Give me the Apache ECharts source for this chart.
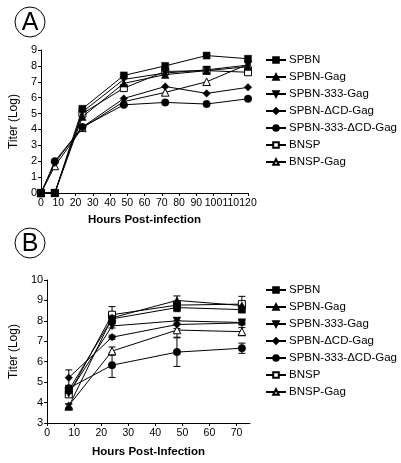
<!DOCTYPE html>
<html><head><meta charset="utf-8">
<script src="https://cdn.jsdelivr.net/npm/echarts@6/dist/echarts.min.js"></script>
<style>html,body{margin:0;padding:0;background:#fff}#c{width:401px;height:463px}</style>
</head><body><div id="c"></div>
<script>
var names = ['SPBN','SPBN-Gag','SPBN-333-Gag','SPBN-\u0394CD-Gag','SPBN-333-\u0394CD-Gag','BNSP','BNSP-Gag'];
// Panel A
var hoursA = [0, 8, 24, 48, 72, 96, 120];
var a_SPBN      = [0, 0,   5.3,  7.4,  8.0,  8.65, 8.45];
var a_SPBNGag   = [0, 0,   4.8,  6.9,  7.45, 7.7,  7.95];
var a_333Gag    = [0, 0,   5.1,  7.15, 7.55, 7.75, 8.05];
var a_dCDGag    = [0, 1.9, 4.15, 5.95, 6.7,  6.27, 6.65];
var a_333dCDGag = [0, 2.0, 4.15, 5.55, 5.7,  5.6,  5.93];
var a_BNSP      = [0, 0,   5.0,  6.6,  7.65, 7.7,  7.6];
var a_BNSPGag   = [0, 1.7, 4.1,  5.75, 6.33, 7.0,  8.1];
// Panel B
var hoursB = [8, 24, 48, 72];
var b_SPBN      = [4.6,  8.1,  8.65, 8.55];
var b_SPBNGag   = [3.8,  8.15, 9.0,  8.75];
var b_333Gag    = [4.45, 7.75, 8.0,  7.92];
var b_dCDGag    = [5.22, 7.2,  7.82, 7.9];
var b_333dCDGag = [4.7,  5.83, 6.47, 6.66];
var b_BNSP      = [4.4,  8.3,  8.77, 8.82];
var b_BNSPGag   = [3.85, 6.52, 7.55, 7.47];
// Panel B error (+/-)
var e_SPBN      = [0.15, 0.2,  0.2,  0.15];
var e_SPBNGag   = [0.12, 0.2,  0.22, 0.2];
var e_333Gag    = [0.1,  0.1,  0.15, 0.1];
var e_dCDGag    = [0.38, 0.1,  0.2,  0.1];
var e_333dCDGag = [0.1,  0.6,  0.7,  0.25];
var e_BNSP      = [0.15, 0.4,  0.2,  0.38];
var e_BNSPGag   = [0.1,  0.2,  0.35, 0.2];
var ticksA = {min:0, max:120, interval:10};
var ticksAy = {min:0, max:9, interval:1};
var ticksB = {min:0, max:75, interval:10};
var ticksBy = {min:3, max:10, interval:1};

var FONT = '"Liberation Sans", Arial, sans-serif';
var downTri = 'path://M0,0L10,0L5,9Z';
var styles = [
  {symbol:'rect', fill:'#000', size:7},
  {symbol:'triangle', fill:'#000', size:7.5},
  {symbol:downTri, fill:'#000', size:7.5},
  {symbol:'diamond', fill:'#000', size:7.5},
  {symbol:'circle', fill:'#000', size:7.5},
  {symbol:'rect', fill:'#fff', size:7},
  {symbol:'triangle', fill:'#fff', size:7.5}
];
var dataA = [a_SPBN,a_SPBNGag,a_333Gag,a_dCDGag,a_333dCDGag,a_BNSP,a_BNSPGag];
var dataB = [b_SPBN,b_SPBNGag,b_333Gag,b_dCDGag,b_333dCDGag,b_BNSP,b_BNSPGag];
var errB = [e_SPBN,e_SPBNGag,e_333Gag,e_dCDGag,e_333dCDGag,e_BNSP,e_BNSPGag];

function pairs(xs, ys){ return xs.map(function(x,i){return [x, ys[i]];}); }

var series = [];
errB.forEach(function(err, k){
  series.push({
    type:'custom', xAxisIndex:1, yAxisIndex:1, silent:true, z:1,
    data: hoursB.map(function(x,i){ return [x, dataB[k][i]-err[i], dataB[k][i]+err[i]]; }),
    renderItem: function(params, api){
      var lo = api.coord([api.value(0), api.value(1)]);
      var hi = api.coord([api.value(0), api.value(2)]);
      var w = 3.5;
      var st = {stroke:'#000', lineWidth:1};
      return {type:'group', children:[
        {type:'line', shape:{x1:lo[0],y1:lo[1],x2:hi[0],y2:hi[1]}, style:st},
        {type:'line', shape:{x1:lo[0]-w,y1:lo[1],x2:lo[0]+w,y2:lo[1]}, style:st},
        {type:'line', shape:{x1:hi[0]-w,y1:hi[1],x2:hi[0]+w,y2:hi[1]}, style:st}
      ]};
    }
  });
});
names.forEach(function(n,k){
  var s = styles[k];
  [0,1].forEach(function(g){
    series.push({
      name:n, type:'line', xAxisIndex:g, yAxisIndex:g, z:2 + (7-k)/10,
      data: g===0 ? pairs(hoursA, dataA[k]) : pairs(hoursB, dataB[k]),
      symbol:s.symbol, symbolSize:s.size, showAllSymbol:true,
      lineStyle:{color:'#000', width:1},
      itemStyle:{color:s.fill, borderColor:'#000', borderWidth: s.fill==='#fff'?1:0.5},
      emphasis:{disabled:true}, animation:false
    });
  });
});

function xAx(idx, t, label){
  return {type:'value', gridIndex:idx, min:t.min, max:t.max, interval:t.interval,
    name:label, nameLocation:'middle', nameGap:idx===0?21:23,
    nameTextStyle:{fontFamily:FONT, fontSize:11.5, fontWeight:'bold', color:'#000'},
    axisLine:{lineStyle:{color:'#000', width:1}}, axisTick:{length:3, lineStyle:{color:'#000'}},
    axisLabel:{fontFamily:FONT, fontSize:10.5, color:'#000', margin:5, showMaxLabel:idx===0},
    splitLine:{show:false}};
}
function yAx(idx, t){
  return {type:'value', gridIndex:idx, min:t.min, max:t.max, interval:t.interval,
    name:'Titer (Log)', nameLocation:'middle', nameGap:16,
    nameTextStyle:{fontFamily:FONT, fontSize:12, color:'#000'},
    axisLine:{show:true, lineStyle:{color:'#000', width:1}}, axisTick:{show:true, length:3, lineStyle:{color:'#000'}},
    axisLabel:{fontFamily:FONT, fontSize:11, color:'#000', margin:4},
    splitLine:{show:false}};
}
var legendBase = {orient:'vertical', left:265, padding:0, itemWidth:20, itemHeight:7, itemGap:5,
  textStyle:{fontFamily:FONT, fontSize:11.5, color:'#000', padding:[0,0,0,-2]}, selectedMode:false, data:names};

var option = {
  animation:false,
  grid:[{left:33, right:153, top:50, bottom:270},{left:35, right:151, top:280, bottom:40}],
  xAxis:[xAx(0,ticksA,'Hours Post-infection'), xAx(1,ticksB,'Hours Post-Infection')],
  yAxis:[yAx(0,ticksAy), yAx(1,ticksBy)],
  legend:[Object.assign({top:54}, legendBase), Object.assign({top:284}, legendBase)],
  series:series,
  graphic:[
    {type:'circle', shape:{cx:30, cy:22, r:15}, style:{fill:'none', stroke:'#000', lineWidth:1}},
    {type:'text', x:30, y:23, style:{text:'A', fontFamily:FONT, fontSize:25, fill:'#000', align:'center', verticalAlign:'middle'}},
    {type:'circle', shape:{cx:30, cy:243, r:15}, style:{fill:'none', stroke:'#000', lineWidth:1}},
    {type:'text', x:30, y:244, style:{text:'B', fontFamily:FONT, fontSize:25, fill:'#000', align:'center', verticalAlign:'middle'}}
  ]
};
var chart = echarts.init(document.getElementById('c'), null, {renderer:'canvas'});
chart.setOption(option);
</script></body></html>
